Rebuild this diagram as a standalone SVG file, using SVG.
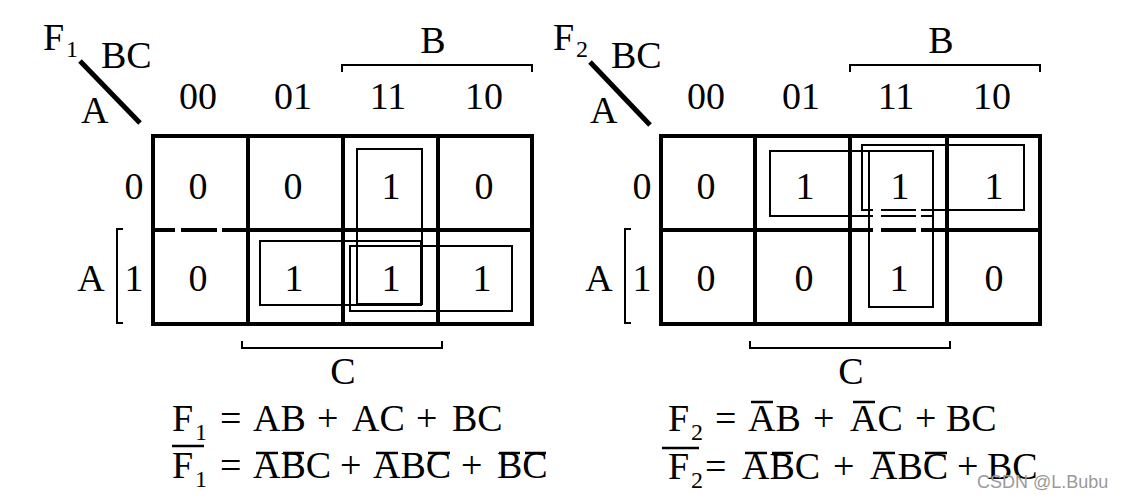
<svg xmlns="http://www.w3.org/2000/svg" width="1122" height="502" viewBox="0 0 1122 502">
<style>
text{font-family:"Liberation Serif","Times New Roman",serif;fill:#000}
.m{font-size:38px}
.c{text-anchor:middle}
.s{font-size:24px}
.e{font-size:38px}
.grid{fill:none;stroke:#000;stroke-width:4}
.loop{fill:none;stroke:#000;stroke-width:2}
.br{fill:none;stroke:#000;stroke-width:2}
.bar{stroke:#000;stroke-width:2.5}
.wm{font-family:"Liberation Sans",Arial,sans-serif;font-size:18px;fill:#9a9a9a}
</style>
<rect width="1122" height="502" fill="#fff"/>

<g id="kmap-f1">
  <line x1="80" y1="61" x2="140" y2="123" stroke="#000" stroke-width="5"/>
  <text class="m" x="43" y="50">F</text><text class="s" x="66" y="57">1</text>
  <text class="m" x="101" y="68">BC</text>
  <text class="m" x="81" y="123">A</text>
  <text class="m c" x="433" y="53">B</text>
  <path class="br" d="M342,72 V65 H532 V72"/>
  <g class="m c">
    <text x="198" y="109">00</text><text x="293" y="109">01</text><text x="388" y="109">11</text><text x="484" y="109">10</text>
  </g>
  <rect class="grid" x="153" y="136" width="379" height="188"/>
  <path class="grid" d="M248,136 V324 M343,136 V324 M438,136 V324 M248,230 H532 M153,230 H175 M181,230 H217 M222,230 H248"/>
  <text class="m c" x="134" y="199">0</text>
  <text class="m c" x="134" y="291">1</text>
  <text class="m c" x="91" y="291">A</text>
  <path class="br" d="M123,229 H117 V323 H123"/>
  <g class="m c">
    <text x="198" y="199">0</text><text x="293" y="199">0</text><text x="391" y="199">1</text><text x="484" y="199">0</text>
    <text x="198" y="291">0</text><text x="294" y="291">1</text><text x="391" y="291">1</text><text x="482" y="291">1</text>
  </g>
  <rect class="loop" x="357" y="149" width="65" height="155"/>
  <rect class="loop" x="260" y="241" width="161" height="64"/>
  <rect class="loop" x="350" y="246" width="162" height="65"/>
  <path class="br" d="M242,341 V348 H442 V341"/>
  <text class="m c" x="343" y="384">C</text>
</g>

<g id="kmap-f2" transform="translate(508,0)">
  <line x1="82" y1="62" x2="142" y2="125" stroke="#000" stroke-width="5"/>
  <text class="m" x="45" y="50">F</text><text class="s" x="68" y="57">2</text>
  <text class="m" x="103" y="68">BC</text>
  <text class="m" x="82" y="123">A</text>
  <text class="m c" x="433" y="53">B</text>
  <path class="br" d="M342,72 V65 H532 V72"/>
  <g class="m c">
    <text x="198" y="109">00</text><text x="293" y="109">01</text><text x="388" y="109">11</text><text x="484" y="109">10</text>
  </g>
  <rect class="grid" x="153" y="136" width="379" height="188"/>
  <path class="grid" d="M247,136 V324 M342,136 V324 M439,136 V324 M153,230 H532"/>
  <text class="m c" x="134" y="199">0</text>
  <text class="m c" x="134" y="291">1</text>
  <text class="m c" x="91" y="291">A</text>
  <path class="br" d="M123,229 H117 V323 H123"/>
  <g class="m c">
    <text x="198" y="199">0</text><text x="297" y="199">1</text><text x="392" y="199">1</text><text x="486" y="199">1</text>
    <text x="198" y="291">0</text><text x="296" y="291">0</text><text x="391" y="291">1</text><text x="486" y="291">0</text>
  </g>
  <rect class="loop" x="262" y="151" width="163" height="65"/>
  <rect class="loop" x="354" y="145" width="162" height="65"/>
  <rect class="loop" x="361" y="151" width="64" height="156"/>
  <rect x="365" y="205" width="8" height="30" fill="#fff"/>
  <rect x="408" y="205" width="5" height="30" fill="#fff"/>
  <path class="br" d="M242,341 V348 H442 V341"/>
  <text class="m c" x="343" y="384">C</text>
</g>

<g id="eq-f1">
  <text class="e" x="172" y="431">F</text><text class="s" x="195" y="440">1</text>
  <text class="e" x="220" y="431">=</text>
  <text class="e" x="253" y="431">AB</text>
  <text class="e" x="317" y="431">+</text>
  <text class="e" x="352" y="431">AC</text>
  <text class="e" x="416" y="431">+</text>
  <text class="e" x="452" y="431">BC</text>

  <line class="bar" x1="172" y1="446" x2="204" y2="446"/>
  <text class="e" x="172" y="478">F</text><text class="s" x="195" y="487">1</text>
  <text class="e" x="220" y="478">=</text>
  <text class="e" x="253" y="478">ABC</text>
  <line class="bar" x1="256" y1="453" x2="278" y2="453"/>
  <line class="bar" x1="283" y1="453" x2="304" y2="453"/>
  <text class="e" x="340" y="478">+</text>
  <text class="e" x="373" y="478">ABC</text>
  <line class="bar" x1="376" y1="453" x2="398" y2="453"/>
  <line class="bar" x1="428" y1="453" x2="450" y2="453"/>
  <text class="e" x="461" y="478">+</text>
  <text class="e" x="497" y="478">BC</text>
  <line class="bar" x1="499" y1="453" x2="520" y2="453"/>
  <line class="bar" x1="525" y1="453" x2="546" y2="453"/>
</g>

<g id="eq-f2">
  <text class="e" x="668" y="431">F</text><text class="s" x="691" y="440">2</text>
  <text class="e" x="715" y="431">=</text>
  <line class="bar" x1="751" y1="402" x2="773" y2="402"/>
  <text class="e" x="748" y="431">AB</text>
  <text class="e" x="813" y="431">+</text>
  <line class="bar" x1="853" y1="402" x2="875" y2="402"/>
  <text class="e" x="850" y="431">AC</text>
  <text class="e" x="915" y="431">+</text>
  <text class="e" x="946" y="431">BC</text>

  <line class="bar" x1="662" y1="448" x2="699" y2="448"/>
  <text class="e" x="668" y="479">F</text><text class="s" x="691" y="488">2</text>
  <text class="e" x="705" y="479">=</text>
  <text class="e" x="742" y="479">ABC</text>
  <line class="bar" x1="745" y1="453" x2="767" y2="453"/>
  <line class="bar" x1="772" y1="453" x2="793" y2="453"/>
  <text class="e" x="833" y="479">+</text>
  <text class="e" x="870" y="479">ABC</text>
  <line class="bar" x1="873" y1="453" x2="895" y2="453"/>
  <line class="bar" x1="925" y1="453" x2="947" y2="453"/>
  <text class="e" x="957" y="479">+</text>
  <text class="e" x="987" y="479">BC</text>
</g>

<text class="wm" x="977" y="488">CSDN @L.Bubu</text>
</svg>
